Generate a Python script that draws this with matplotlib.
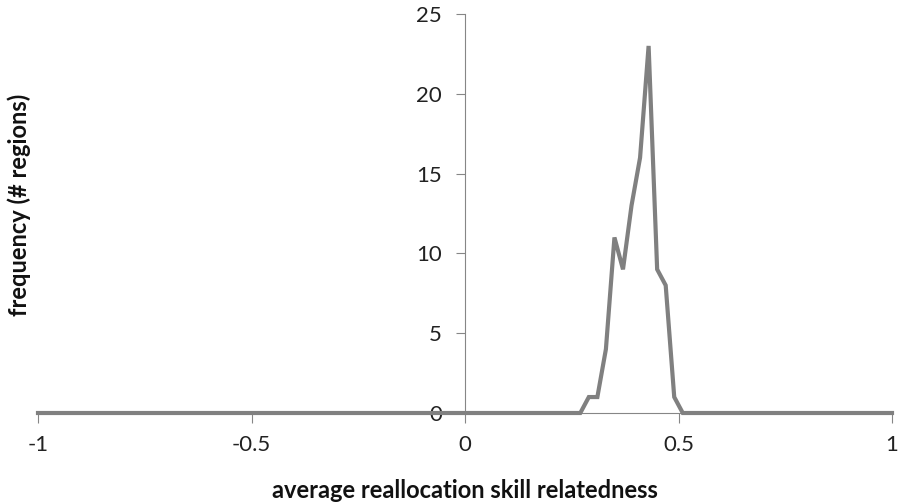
import matplotlib
matplotlib.use("Agg")
import matplotlib.pyplot as plt

x_values = [-1, 0.27, 0.29, 0.31, 0.33, 0.35, 0.37, 0.39, 0.41, 0.43, 0.45, 0.47, 0.49, 0.51, 1]
frequency = [0, 0, 1, 1, 4, 11, 9, 13, 16, 23, 9, 8, 1, 0, 0]
x_ticks = [-1, -0.5, 0, 0.5, 1]
x_tick_labels = ["-1", "-0.5", "0", "0.5", "1"]
y_ticks = [0, 5, 10, 15, 20, 25]

plt.rcParams['font.family'] = ['Lato', 'DejaVu Sans']

fig = plt.figure(figsize=(8.99, 5.04), dpi=100)
ax = fig.add_axes([38/899, 91/504, (892-38)/899, (413-14)/504])

ax.plot(x_values, frequency, color='#808080', lw=3.0, solid_joinstyle='miter', zorder=3, clip_on=False)

ax.set_xlim(-1, 1)
ax.set_ylim(0, 25)
ax.spines['top'].set_visible(False)
ax.spines['right'].set_visible(False)
ax.spines['left'].set_position(('data', 0))
for s in ['left', 'bottom']:
    ax.spines[s].set_color('#868686')
    ax.spines[s].set_linewidth(0.8)

ax.set_xticks(x_ticks)
ax.set_xticklabels(x_tick_labels)
ax.set_yticks(y_ticks)
ax.tick_params(axis='x', direction='out', length=7, width=0.8, color='#868686', labelsize=16,
               pad=9, labelcolor='#222222')
ax.tick_params(axis='y', direction='out', length=6.5, width=0.8, color='#868686', labelsize=16,
               pad=10, labelcolor='#222222')

fig.text(465/899, 1 - 490/504, 'average reallocation skill relatedness', fontsize=17,
         fontweight='bold', ha='center', va='center', color='#111111')
fig.text(19/899, 1 - 205/504, 'frequency (# regions)', rotation=90, fontsize=17, fontweight='bold',
         ha='center', va='center', color='#111111')

fig.savefig('out.png', dpi=100)
